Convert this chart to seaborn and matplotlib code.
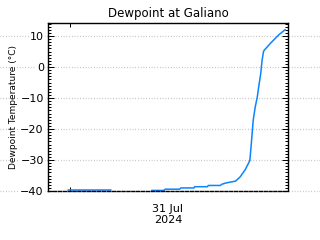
import matplotlib
matplotlib.use("Agg")
import matplotlib.pyplot as plt
import matplotlib.dates as mdates
from matplotlib.ticker import MultipleLocator, FixedLocator
import seaborn as sns
import pandas as pd

# ---- data ----
times = [
    "2024-07-30 23:50", "2024-07-31 05:00",
    "2024-07-31 10:00", "2024-07-31 11:30", "2024-07-31 11:40", "2024-07-31 13:25",
    "2024-07-31 13:35", "2024-07-31 15:10", "2024-07-31 15:15", "2024-07-31 16:50",
    "2024-07-31 16:55", "2024-07-31 18:25", "2024-07-31 18:35", "2024-07-31 19:05",
    "2024-07-31 20:15", "2024-07-31 20:50", "2024-07-31 21:25", "2024-07-31 22:00",
    "2024-07-31 22:05", "2024-07-31 22:15", "2024-07-31 22:25", "2024-07-31 22:40",
    "2024-07-31 22:55", "2024-07-31 23:05", "2024-07-31 23:20", "2024-07-31 23:30",
    "2024-07-31 23:40", "2024-07-31 23:45", "2024-08-01 00:30", "2024-08-01 01:30",
    "2024-08-01 02:20",
]
dewpoint = [
    -39.8, -39.8,
    -39.8, -39.8, -39.4, -39.4,
    -39.0, -39.0, -38.6, -38.6,
    -38.2, -38.2, -37.8, -37.4,
    -36.8, -35.4, -33.2, -30.2,
    -27.8, -22.5, -17.1, -12.8,
    -9.6, -6.4, -2.1, 2.2,
    4.9, 5.4, 7.6, 10.3,
    12.1,
]
segment = [0, 0] + [1] * 29

y_ticks = [-40, -30, -20, -10, 0, 10]
x_range = ["2024-07-30 21:20", "2024-08-01 02:40"]
day_start = "2024-07-31 00:00"
day_label = "31 Jul\n2024"
title = "Dewpoint at Galiano"
ylabel = "Dewpoint Temperature (°C)"

df = pd.DataFrame({"time": pd.to_datetime(times), "dewpoint": dewpoint, "segment": segment})

sns.set_theme(style="ticks")
plt.rcParams["font.family"] = ["DejaVu Sans"]

fig = plt.figure(figsize=(3.2, 2.4), dpi=100)
ax = fig.add_axes([0.15, 0.204, 0.75, 0.7])

sns.lineplot(data=df, x="time", y="dewpoint", units="segment", estimator=None,
             color="#0a84ff", lw=1.1, ax=ax, legend=False)

ax.set_xlim(pd.to_datetime(x_range[0]), pd.to_datetime(x_range[1]))
ax.set_ylim(-40, 14.2)

LW = 0.72  # one pixel

# y ticks
ax.yaxis.set_major_locator(FixedLocator(y_ticks))
ax.yaxis.set_minor_locator(MultipleLocator(1))
ax.yaxis.set_tick_params(which="major", direction="in", length=4, width=LW,
                         left=True, right=True, labelsize=8, pad=3, colors="black")
ax.yaxis.set_tick_params(which="minor", direction="in", length=2, width=LW,
                         left=True, right=True, colors="black")

# x ticks
ax.xaxis.set_major_locator(FixedLocator([mdates.date2num(pd.to_datetime(day_start)) + 0.5]))
ax.xaxis.set_minor_locator(FixedLocator([mdates.date2num(pd.to_datetime(day_start))]))
ax.set_xticklabels([day_label])
ax.xaxis.set_tick_params(which="major", length=0, labelsize=8, pad=9, colors="black")
ax.xaxis.set_tick_params(which="minor", direction="in", length=3, width=LW,
                         top=True, bottom=True, colors="black")

for s in ax.spines.values():
    s.set_visible(True)
    s.set_color("black")
    s.set_linewidth(1.4 * LW)
ax.spines["bottom"].set_linestyle((0, (2.2, 1.3)))

# dotted grid lines that run across the whole figure width
ytr = ax.get_yaxis_transform()
for v in y_ticks:
    ax.plot([-0.2, 1.14], [v, v], transform=ytr, clip_on=False,
            color="#b4b4b4", lw=0.9, ls=(0, (0.6, 1.6)), zorder=0.1)
ax.set_axisbelow(True)
for t in ax.get_yticklabels():
    t.set_bbox(dict(facecolor="white", edgecolor="none", pad=1.0))

ax.set_xlabel("")
ax.set_ylabel(ylabel, fontsize=6.5, color="black")
ax.yaxis.set_label_coords(-0.125, 0.5)
ax.set_title(title, fontsize=8.5, pad=4, color="black")

fig.savefig("out.png", dpi=100)
